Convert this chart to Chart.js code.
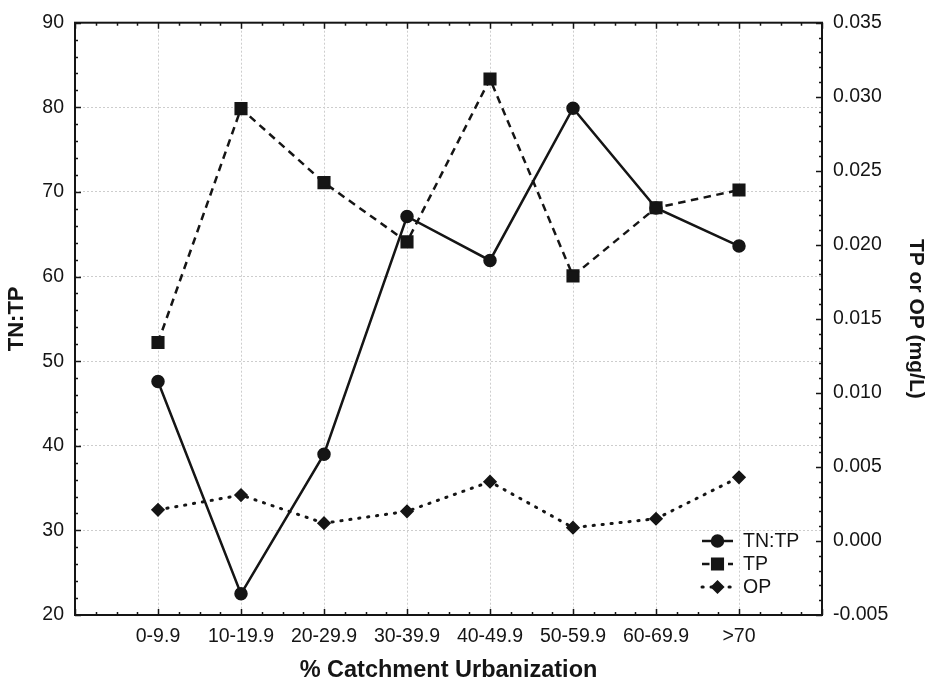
<!DOCTYPE html>
<html>
<head>
<meta charset="utf-8">
<title>TN:TP and phosphorus vs catchment urbanization</title>
<script src="https://cdn.jsdelivr.net/npm/chart.js@4.4.1/dist/chart.umd.min.js"></script>
<style>
  html, body { margin: 0; padding: 0; background: #fff; }
  #wrap { width: 930px; height: 685px; }
</style>
</head>
<body>
<div id="wrap"><canvas id="chartUrb" width="930" height="685"></canvas></div>
<script>
const categories = ['0-9.9', '10-19.9', '20-29.9', '30-39.9', '40-49.9', '50-59.9', '60-69.9', '>70'];
const tnTp = [47.6, 22.5, 39.0, 67.1, 61.9, 79.9, 68.1, 63.6];
const tp   = [0.0134, 0.0292, 0.0242, 0.0202, 0.0312, 0.0179, 0.0225, 0.0237];
const op   = [0.0021, 0.0031, 0.0012, 0.0020, 0.0040, 0.0009, 0.0015, 0.0043];
const leftTicks  = [20, 30, 40, 50, 60, 70, 80, 90];
const rightTicks = [-0.005, 0, 0.005, 0.010, 0.015, 0.020, 0.025, 0.030, 0.035];
const xTicks     = [-1, 0, 1, 2, 3, 4, 5, 6, 7, 8];

const INK = '#151515';
const FONT = '"Liberation Sans", Arial, Helvetica, sans-serif';

document.addEventListener('DOMContentLoaded', function () {

    Chart.defaults.font.family = FONT;
    Chart.defaults.color = INK;

    const toPoints = arr => arr.map((v, i) => ({ x: i, y: v }));

    // frame, inward ticks and the in-plot legend
    const framePlugin = {
        id: 'frame',
        afterDraw(chart) {
            const ctx = chart.ctx;
            const a = chart.chartArea;
            const sx = chart.scales.x, yl = chart.scales.y, yr = chart.scales.y1;
            ctx.save();
            ctx.strokeStyle = INK;
            ctx.lineWidth = 1.5;
            ctx.beginPath();
            for (let k = 20; k <= 90; k += 2) {
                const y = Math.round(yl.getPixelForValue(k)) + 0.5;
                const len = k % 10 === 0 ? 6 : 3;
                ctx.moveTo(a.left, y); ctx.lineTo(a.left + len, y);
            }
            for (let k = -5; k <= 35; k++) {
                const y = Math.round(yr.getPixelForValue(k / 1000)) + 0.5;
                const len = k % 5 === 0 ? 6 : 3;
                ctx.moveTo(a.right, y); ctx.lineTo(a.right - len, y);
            }
            for (let k = -4; k <= 32; k++) {
                const x = Math.round(sx.getPixelForValue(k / 4)) + 0.5;
                const len = k % 4 === 0 ? 6 : 3;
                ctx.moveTo(x, a.bottom); ctx.lineTo(x, a.bottom - len);
                ctx.moveTo(x, a.top); ctx.lineTo(x, a.top + len);
            }
            ctx.stroke();

            ctx.lineWidth = 2;
            ctx.strokeRect(a.left, a.top, a.right - a.left, a.bottom - a.top);

            // legend
            const lx = a.right - 120, ly = a.bottom - 74;
            ctx.font = '19.5px ' + FONT;
            ctx.textBaseline = 'middle';
            ctx.textAlign = 'left';
            chart.data.datasets.forEach((ds, i) => {
                const y = ly + i * 23;
                ctx.save();
                ctx.strokeStyle = INK;
                ctx.fillStyle = INK;
                ctx.lineWidth = ds.borderWidth;
                ctx.lineCap = ds.borderCapStyle || 'butt';
                ctx.setLineDash(ds.borderDash || []);
                ctx.beginPath();
                ctx.moveTo(lx, y); ctx.lineTo(lx + 31, y);
                ctx.stroke();
                ctx.setLineDash([]);
                Chart.helpers.drawPoint(ctx, {
                    pointStyle: ds.pointStyle, radius: ds.pointRadius, rotation: 0, borderWidth: 1
                }, lx + 15.5, y);
                ctx.fillText(ds.label, lx + 41, y + 1);
                ctx.restore();
            });
            ctx.restore();
        }
    };

    const gridOpts = { color: '#cdcdcd', lineWidth: 1, drawTicks: false };

    new Chart(document.getElementById('chartUrb').getContext('2d'), {
        type: 'line',
        data: {
            datasets: [{
                label: 'TN:TP',
                data: toPoints(tnTp),
                yAxisID: 'y',
                borderColor: INK,
                backgroundColor: INK,
                borderWidth: 2.5,
                pointStyle: 'circle',
                pointRadius: 5.5,
                pointBackgroundColor: INK,
                pointBorderColor: INK,
                tension: 0
            }, {
                label: 'TP',
                data: toPoints(tp),
                yAxisID: 'y1',
                borderColor: INK,
                backgroundColor: INK,
                borderWidth: 2.5,
                borderDash: [7.5, 5.5],
                pointStyle: 'rect',
                pointRadius: 7.5,
                pointBackgroundColor: INK,
                pointBorderColor: INK,
                tension: 0
            }, {
                label: 'OP',
                data: toPoints(op),
                yAxisID: 'y1',
                borderColor: INK,
                backgroundColor: INK,
                borderWidth: 3,
                borderDash: [1.2, 7.8],
                borderCapStyle: 'round',
                pointStyle: 'rectRot',
                pointRadius: 5,
                pointBackgroundColor: INK,
                pointBorderColor: INK,
                tension: 0
            }]
        },
        options: {
            responsive: false,
            animation: false,
            layout: { padding: { top: 15, left: 0, right: 0, bottom: 0 } },
            plugins: { legend: { display: false }, tooltip: { enabled: false } },
            scales: {
                x: {
                    type: 'linear',
                    min: -1, max: 8,
                    afterBuildTicks: s => { s.ticks = xTicks.map(v => ({ value: v })); },
                    afterFit: s => { s.height = 70; },
                    ticks: {
                        autoSkip: false, maxRotation: 0, padding: 10,
                        font: { size: 19.5 },
                        callback: v => categories[v] ?? ''
                    },
                    grid: gridOpts,
                    border: { display: false, dash: [2, 2] },
                    title: {
                        display: true, text: '% Catchment Urbanization',
                        font: { size: 23.5, weight: 'bold' },
                        padding: { top: 0, bottom: 0 }
                    }
                },
                y: {
                    position: 'left',
                    min: 20, max: 90,
                    afterBuildTicks: s => { s.ticks = leftTicks.map(v => ({ value: v })); },
                    afterFit: s => { s.width = 75; },
                    ticks: { padding: 11, font: { size: 19.5 } },
                    grid: gridOpts,
                    border: { display: false, dash: [2, 2] },
                    title: {
                        display: true, text: 'TN:TP',
                        font: { size: 22, weight: 'bold' },
                        padding: { top: 4, bottom: 0 }
                    }
                },
                y1: {
                    position: 'right',
                    min: -0.005, max: 0.035,
                    afterBuildTicks: s => { s.ticks = rightTicks.map(v => ({ value: v })); },
                    afterFit: s => { s.width = 108; },
                    ticks: {
                        padding: 11, font: { size: 19.5 },
                        callback: v => v.toFixed(3)
                    },
                    grid: { display: false, drawTicks: false },
                    border: { display: false },
                    title: {
                        display: true, text: 'TP or OP (mg/L)',
                        font: { size: 21, weight: 'bold' },
                        padding: { top: 2, bottom: 0 }
                    }
                }
            }
        },
        plugins: [framePlugin]
    });
});
</script>
</body>
</html>
